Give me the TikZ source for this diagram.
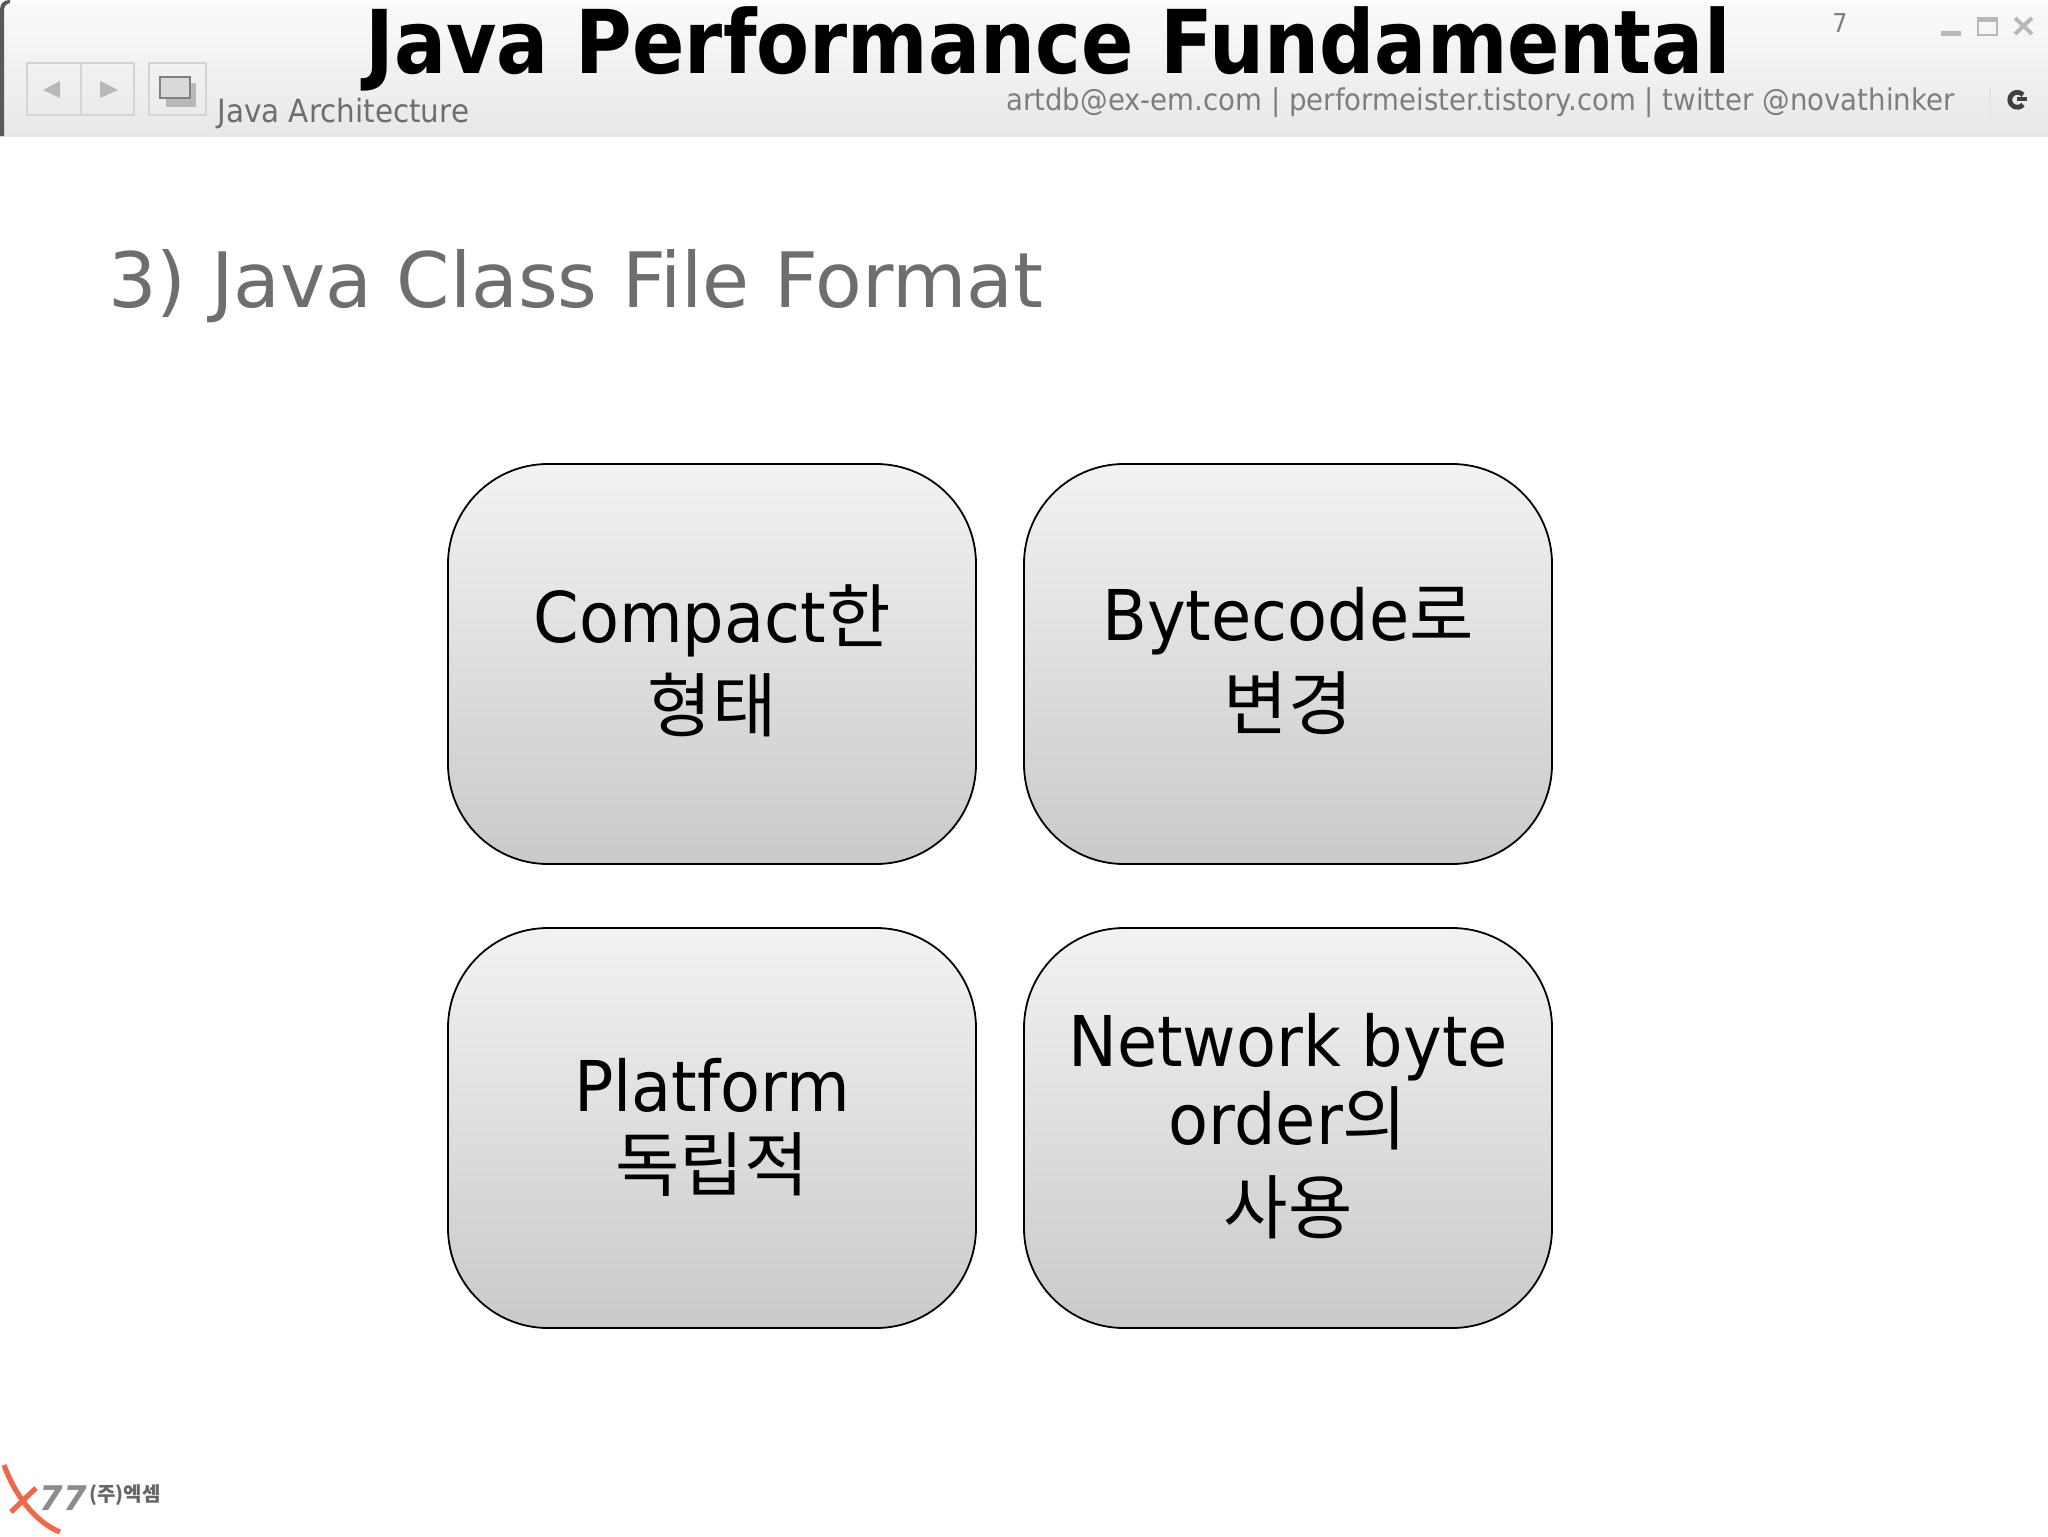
\documentclass[tikz,border=0pt]{standalone}
\usepackage{fontspec}
\setmainfont{DejaVu Sans}
\newfontfamily\kr{Noto Sans CJK KR}
\newfontfamily\bodyf[FakeStretch=0.934]{DejaVu Sans}
\newfontfamily\smallf[FakeStretch=0.92]{DejaVu Sans}
\newfontfamily\titlef[FakeStretch=0.878]{DejaVu Sans Bold}
\definecolor{slidegray}{HTML}{6E6E6E}
\definecolor{subgray}{HTML}{7E7E7E}
\definecolor{iconline}{HTML}{D4D4D4}
\definecolor{icondark}{HTML}{B8B8B8}
\definecolor{logored}{HTML}{F0674A}
\tikzset{
  card/.style={draw=black,line width=0.9pt,rounded corners=50pt,top color=black!5,bottom color=black!21,
    minimum width=264pt,minimum height=200pt,inner sep=0pt},
  cardtext/.style={inner sep=0pt,align=center,text=black,font=\fontsize{35}{35}\bodyf},
  iconbox/.style={draw=iconline,line width=1pt},
}
\begin{document}
\begin{tikzpicture}[x=0.5pt,y=-0.5pt]
\useasboundingbox (0,0) rectangle (2048,1536);
\fill[white] (0,0) rectangle (2048,1536);
% top bar
\shade[top color=black!2,middle color=black!3,bottom color=black!9] (0,4) rectangle (2048,136);
\fill[black!65] (0,136) -- (0,10) .. controls (0,4) and (3,0) .. (10,0) -- (10,3) .. controls (5,4) and (4,7) .. (4,12) -- (4,136) -- cycle;
% navigation icons
\draw[iconbox] (27,63) rectangle (134,115);
\draw[iconbox] (81,63) -- (81,115);
\draw[iconbox] (149,63) rectangle (206,115);
\fill[icondark] (43,90) -- (60,81) -- (60,98) -- cycle;
\fill[icondark] (100,81) -- (118,90) -- (100,98) -- cycle;
\draw[icondark,line width=1pt,fill=icondark] (167,84) rectangle (195,106);
\draw[black!50,line width=1.2pt,fill=black!15] (160,77) rectangle (190,98);
% window icons
\fill[icondark] (1941,31) rectangle (1961,36);
\draw[icondark,line width=1.2pt] (1978,18) rectangle (1997,35);
\fill[icondark] (1978,18) rectangle (1997,22);
\draw[icondark,line width=2pt] (2015,18) -- (2032,34) (2032,18) -- (2015,34);
\draw[black!10,line width=.6pt] (1990,88) -- (1990,118);
\draw[black!75,line width=2.4pt] (2023,95) arc[start angle=-40,end angle=-320,radius=7.5];
\fill[black!75] (2017,97) rectangle (2027,101);
% header text
\node[anchor=base,inner sep=0pt,font=\fontsize{44}{44}\titlef] (title) at (1048,74) {Java Performance Fundamental};
\node[anchor=base west,inner sep=0pt,text=slidegray,font=\fontsize{16}{16}\smallf] (section) at (217,122) {Java Architecture};
\node[anchor=base east,inner sep=0pt,text=subgray,font=\fontsize{15}{15}\smallf] (contact) at (1955,111) {artdb@ex-em.com | performeister.tistory.com | twitter @novathinker};
\node[anchor=base,inner sep=0pt,text=subgray,font=\fontsize{13}{13}\smallf] (pageno) at (1840,33) {7};
\node[anchor=base west,inner sep=0pt,text=slidegray,font=\fontsize{38.2}{38.2}\selectfont] (heading) at (108,307) {3) Java Class File Format};
% cards
\node[card] (c1) at (712,664) {};
\node[card] (c2) at (1288,664) {};
\node[card] (c3) at (712,1128) {};
\node[card] (c4) at (1288,1128) {};
\node[cardtext] (t1) at (712,661) {Compact{\kr 한}\\[7pt]{\kr 형태}};
\node[cardtext] (t2) at (1288,661) {Bytecode{\kr 로}\\[7pt]{\kr 변경}};
\node[cardtext] (t3) at (712,1127) {Platform\\[4.5pt]{\kr 독립적}};
\node[cardtext] (t4) at (1288,1126) {Network byte\\[1.9pt]order{\kr 의}\\[9.6pt]{\kr 사용}};
% logo
\draw[logored,line width=2.6pt] (4,1465) .. controls (15,1495) and (35,1522) .. (60,1532);
\draw[logored,line width=2.6pt] (36,1488) -- (11,1512);
\node[anchor=base,inner sep=0pt,text=black!45,font=\fontsize{17}{17}\bfseries\itshape] (seven) at (63,1510) {77};
\node[anchor=west,inner sep=0pt,text=black!60,font=\fontsize{10}{10}\kr\bfseries] (brand) at (89,1495) {(주)엑셈};
\end{tikzpicture}
\end{document}
